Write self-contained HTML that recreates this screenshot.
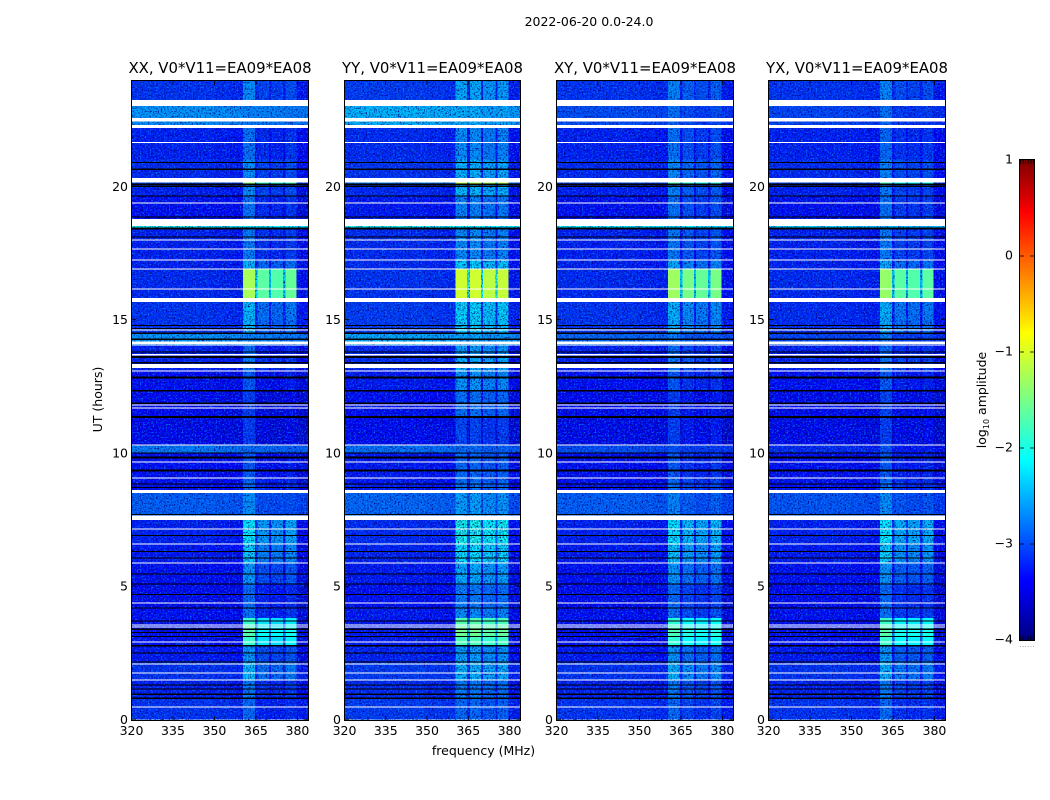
<!DOCTYPE html>
<html lang="en">
<head>
<meta charset="utf-8">
<title>2022-06-20 spectrogram</title>
<style>
html,body{margin:0;padding:0;background:#fff;}
svg{display:block;}
text{font-family:"DejaVu Sans","Liberation Sans",sans-serif;fill:#000;}
</style>
</head>
<body>
<svg id="chart" xmlns="http://www.w3.org/2000/svg" width="1050" height="800" viewBox="0 0 1050 800">
<defs>
<filter id="darkNoise" x="0" y="0" width="100%" height="100%" color-interpolation-filters="sRGB">
<feTurbulence type="fractalNoise" baseFrequency="0.62" numOctaves="2" seed="4"/>
<feColorMatrix type="matrix" values="0 0 0 0 0  0 0 0 0 0  0 0 0 0 0.45  3.0 0 0 0 -1.4"/>
</filter>
<filter id="lightNoise" x="0" y="0" width="100%" height="100%" color-interpolation-filters="sRGB">
<feTurbulence type="fractalNoise" baseFrequency="0.62" numOctaves="2" seed="11"/>
<feColorMatrix type="matrix" values="0 0 0 0 0  0 0 0 0 0.6  0 0 0 0 1  2.4 0 0 0 -1.2"/>
</filter>
</defs>
<text x="589" y="26" font-size="12.5" text-anchor="middle">2022-06-20 0.0-24.0</text>
<text x="483.5" y="755" font-size="12.5" text-anchor="middle">frequency (MHz)</text>
<text transform="translate(102,399.5) rotate(-90)" font-size="12.5" text-anchor="middle">UT (hours)</text>
<text transform="translate(986,400) rotate(-90)" font-size="12.5" text-anchor="middle">log<tspan font-size="8" dy="3">10</tspan><tspan dy="-3"> amplitude</tspan></text>
<g id="panels"></g>
<g id="colorbar"></g>
</svg>
<script>
// ---- Shared axes data ----
const polarisations = ['XX', 'YY', 'XY', 'YX'];
const baselineLabel = ', V0*V11=EA09*EA08';
const freqTicks = [320, 335, 350, 365, 380];
const hourTicks = [0, 5, 10, 15, 20];
const colorTicks = [1, 0, -1, -2, -3, -4];
const freqRange = [320, 384];
const hourRange = [0, 23.95];
const colorRange = [-4, 1];

// Frequency channel edges (MHz) and time segment edges (UT hours)
const channelEdges = [320, 326, 332, 338, 344, 350, 356, 360.5, 364.8, 365.8, 369.9, 370.6, 375, 375.8, 379.9, 384];
const segmentEdges = [0, 0.79, 1.45, 2.15, 2.76, 3.1, 3.44, 3.8, 4.2, 5.07, 5.87, 6.55, 7.47, 7.65, 8.5, 9.03, 10, 10.28, 11.35, 12.33, 13.05, 13.6, 14.05, 14.2, 14.48, 15, 15.81, 16.9, 17.25, 18.42, 18.51, 18.78, 19.64, 20.07, 20.15, 20.32, 21, 21.66, 22.19, 22.44, 23.02, 24];

// Broadband tilt across the band (log10 amplitude offset per channel)
const channelTilt = [0, 0, 0, 0, 0, -0.03, -0.06, -0.1, -0.1, -0.1, -0.12, -0.12, -0.12, -0.15, -0.15];

// Per-segment broadband background level (log10 amplitude)
const backgroundXX = [-3.15, -3.25, -3.15, -3.3, -3.35, -3.35, -3.35, -3.35, -3.4, -3.35, -3.3, -3.25, -3.1, -2.9, -3.35, -3.35, -2.75, -3.45, -3.4, -3.35, -3.25, -3.25, -2.5, -2.6, -3.15, -3.15, -3.2, -3.25, -3.25, -2.0, -3, -3.35, -3.25, -3.05, -3.05, -3.2, -3.25, -3.25, -2.65, -2.6, -3.15];
const backgroundYY = [-3.1, -3.2, -3.1, -3.25, -3.3, -3.3, -3.3, -3.3, -3.35, -3.3, -3.25, -3.2, -2.6, -2.85, -3.3, -3.3, -2.8, -3.4, -3.35, -3.3, -3.2, -3.2, -2.4, -2.5, -3.1, -3.1, -3.15, -3.2, -3.2, -2.0, -3, -3.3, -3.2, -2.75, -2.75, -3.15, -3.2, -3.2, -2.45, -2.42, -3.1];
const backgroundXY = [-3.15, -3.25, -3.15, -3.3, -3.35, -3.35, -3.35, -3.35, -3.4, -3.35, -3.3, -3.25, -3.1, -2.9, -3.35, -3.35, -3.0, -3.45, -3.4, -3.35, -3.25, -3.25, -2.7, -2.85, -3.15, -3.15, -3.2, -3.25, -3.25, -2.1, -3, -3.35, -3.25, -3.05, -3.05, -3.2, -3.25, -3.25, -3.0, -3.0, -3.15];
const backgroundYX = [-3.15, -3.25, -3.15, -3.3, -3.35, -3.35, -3.35, -3.35, -3.4, -3.35, -3.3, -3.25, -3.1, -2.95, -3.35, -3.35, -3.2, -3.45, -3.4, -3.35, -3.25, -3.25, -2.95, -3.05, -3.2, -3.2, -3.2, -3.25, -3.25, -2.3, -3, -3.35, -3.25, -3.05, -3.05, -3.2, -3.25, -3.25, -3.05, -3.05, -3.15];

// Per-segment interference level in the strongest 360-380 MHz channel
const interferenceXX = [-2.85, -2.75, -2.4, -2.6, -1.85, -1.7, -1.85, -2.8, -2.85, -2.6, -2.3, -2.15, -2.1, -2.65, -2.85, -2.95, -2.95, -3.1, -3.1, -2.95, -2.75, -2.85, -2.8, -2.7, -2.45, -2.4, -1.25, -2.45, -2.75, -2.5, -2.7, -2.8, -2.65, -1.4, -1.3, -2.65, -2.8, -2.8, -2.8, -2.7, -2.65];
const interferenceYY = [-2.85, -2.75, -2.45, -2.55, -1.75, -1.55, -1.7, -2.65, -2.75, -2.5, -2.2, -2.0, -2.0, -2.55, -2.8, -2.85, -2.85, -3.05, -2.8, -2.6, -2.45, -2.55, -2.45, -2.5, -2.3, -2.25, -1.05, -2.3, -2.65, -2.35, -2.55, -2.7, -2.4, -1.15, -1.1, -2.45, -2.65, -2.65, -2.45, -2.45, -2.5];
const interferenceXY = [-2.85, -2.75, -2.45, -2.6, -1.9, -1.75, -1.9, -2.8, -2.85, -2.6, -2.35, -2.2, -2.15, -2.7, -2.85, -2.95, -3.0, -3.1, -3.1, -2.95, -2.75, -2.85, -2.8, -2.75, -2.5, -2.45, -1.3, -2.5, -2.75, -2.55, -2.7, -2.8, -2.7, -1.7, -1.65, -2.65, -2.8, -2.8, -2.85, -2.8, -2.7];
const interferenceYX = [-2.85, -2.75, -2.45, -2.6, -1.85, -1.7, -1.85, -2.8, -2.85, -2.6, -2.3, -2.15, -2.1, -2.65, -2.85, -2.95, -3.0, -3.1, -3.05, -2.95, -2.75, -2.85, -2.8, -2.75, -2.5, -2.45, -1.35, -2.5, -2.75, -2.55, -2.7, -2.8, -2.75, -1.75, -1.7, -2.7, -2.85, -2.85, -2.85, -2.8, -2.7];

// Interference gain per channel (log10 offset; -9 means none)
const gainXX = [-9, -9, -9, -9, -9, -9, -9, 0, -1.0, -0.4, -1.1, -0.45, -1.1, -0.35, -9];
const gainYY = [-9, -9, -9, -9, -9, -9, -9, 0, -0.9, 0, -1.0, -0.1, -0.9, -0.05, -9];
const gainXY = [-9, -9, -9, -9, -9, -9, -9, 0, -1.0, -0.2, -1.05, -0.3, -1.05, -0.2, -9];
const gainYX = [-9, -9, -9, -9, -9, -9, -9, 0, -1.0, -0.3, -1.05, -0.35, -1.05, -0.3, -9];

// Segments whose interference is steady (no visible grain)
const steadySegments = [4, 5, 6, 26, 33, 34];

// Flagged (no data) time ranges, drawn white: start hour, end hour
const flaggedStart = [0.44, 1.45, 1.71, 2.05, 2.88, 3.44, 3.52, 4.34, 5.84, 6.55, 7.12, 7.47, 8.5, 9.03, 9.64, 10.28, 11.66, 11.78, 13.05, 13.18, 13.66, 14.03, 14.08, 14.59, 15.65, 16.12, 16.87, 17.21, 17.62, 17.97, 18.51, 19.36, 20.15, 21.63, 22.19, 22.44, 23.02];
const flaggedEnd = [0.48, 1.49, 1.75, 2.09, 2.92, 3.48, 3.56, 4.38, 5.88, 6.59, 7.16, 7.65, 8.6, 9.07, 9.68, 10.32, 11.7, 11.82, 13.09, 13.33, 13.7, 14.07, 14.18, 14.63, 15.81, 16.16, 16.91, 17.25, 17.66, 18.01, 18.78, 19.4, 20.32, 21.67, 22.3, 22.56, 23.24];

// Zero amplitude time ranges, drawn black: centre hour, duration hours
const blankCentre = [0.79, 0.94, 1.14, 1.29, 2.15, 2.48, 2.76, 3.1, 3.25, 3.38, 3.69, 4.17, 4.69, 5.07, 5.45, 6.06, 6.29, 6.9, 7.69, 8.7, 8.83, 9.33, 9.83, 10.0, 11.35, 11.86, 12.33, 12.83, 13.38, 13.6, 13.78, 14.26, 14.48, 14.67, 14.77, 18.09, 18.42, 18.84, 19.64, 19.99, 20.07, 20.64, 20.9];
const blankLength = [0.04, 0.04, 0.04, 0.04, 0.04, 0.04, 0.04, 0.04, 0.04, 0.04, 0.04, 0.04, 0.04, 0.04, 0.04, 0.04, 0.04, 0.04, 0.04, 0.04, 0.04, 0.08, 0.08, 0.04, 0.08, 0.05, 0.07, 0.07, 0.04, 0.07, 0.04, 0.04, 0.06, 0.04, 0.04, 0.04, 0.08, 0.04, 0.04, 0.04, 0.08, 0.04, 0.04];

// Jet colormap anchors: position, red, green, blue
const jetPosition = [0, 0.11, 0.125, 0.35, 0.375, 0.64, 0.66, 0.89, 0.91, 1];
const jetRed = [0, 0, 0, 0, 0, 1, 1, 1, 0.9, 0.5];
const jetGreen = [0, 0, 0, 0.9, 1, 1, 0.91, 0, 0, 0];
const jetBlue = [0.5, 0.96, 1, 1, 1, 0, 0, 0, 0, 0];

const panelBackgrounds = [backgroundXX, backgroundYY, backgroundXY, backgroundYX];
const panelInterference = [interferenceXX, interferenceYY, interferenceXY, interferenceYX];
const panelGains = [gainXX, gainYY, gainXY, gainYX];

// ---- Layout ----
const panelLeft = [131, 344, 556, 768];
const panelWidths = [177, 176, 177, 177];
const panelTop = 81;
const panelBottom = 720;
const barLeft = 1019;
const barRight = 1034;
const barTop = 160;
const barBottom = 640;
const NS = 'http://www.w3.org/2000/svg';

function xScale(panel, freq) {
  return panelLeft[panel] + (freq - freqRange[0]) / (freqRange[1] - freqRange[0]) * panelWidths[panel];
}
function yScale(hour) {
  const h = Math.min(hourRange[1], hour);
  return 719.3 + (h - hourRange[0]) * -26.65;
}
function barScale(value) {
  return barBottom + (value - colorRange[0]) / (colorRange[1] - colorRange[0]) * (barTop - barBottom);
}
function jet(value) {
  const t = Math.min(1, Math.max(0, (value - colorRange[0]) / (colorRange[1] - colorRange[0])));
  let i = 0;
  while (i < jetPosition.length - 2 && t > jetPosition[i + 1]) i++;
  const f = (t - jetPosition[i]) / (jetPosition[i + 1] - jetPosition[i]);
  const mix = function (a) { return Math.round(255 * (a[i] + (a[i + 1] - a[i]) * f)); };
  return 'rgb(' + mix(jetRed) + ',' + mix(jetGreen) + ',' + mix(jetBlue) + ')';
}
function make(parent, tag, attrs, text) {
  const el = document.createElementNS(NS, tag);
  for (const k in attrs) el.setAttribute(k, attrs[k]);
  if (text !== undefined) el.textContent = text;
  parent.appendChild(el);
  return el;
}

const panelsRoot = document.getElementById('panels');
polarisations.forEach(function (pol, p) {
  const left = panelLeft[p];
  const panelWidth = panelWidths[p];
  const right = left + panelWidth;
  const plotLeft = left + 1;
  const group = make(panelsRoot, 'g', {});
  
  

  const cells = make(group, 'g', { 'shape-rendering': 'crispEdges' });
  
  
  const noiseDark = make(group, 'rect', { x: left, y: panelTop, width: panelWidth, height: panelBottom - panelTop, filter: 'url(#darkNoise)' });
  
  
  const noiseLight = make(group, 'rect', { x: left, y: panelTop, width: panelWidth, height: panelBottom - panelTop, filter: 'url(#lightNoise)' });
  
  
  const strongCells = make(group, 'g', { 'shape-rendering': 'crispEdges' });
  
  

  for (let s = 0; s < segmentEdges.length - 1; s++) {
    for (let c = 0; c < channelEdges.length - 1; c++) {
      const gain = panelGains[p][c];
      const value = Math.max(
        panelBackgrounds[p][s] + channelTilt[c],
        panelInterference[p][s] + gain
      );
      const y0 = yScale(segmentEdges[s + 1]);
      const y1 = yScale(segmentEdges[s]);
      const x0 = xScale(p, channelEdges[c]);
      const x1 = xScale(p, channelEdges[c + 1]);
      const target = (steadySegments.includes(s) && gain > -0.8) ? strongCells : cells;
      const cell = make(target, 'rect', { x: x0, y: y0, width: x1 - x0, height: y1 - y0, fill: jet(value) });
      
      
    }
  }

  const bands = make(group, 'g', { 'shape-rendering': 'crispEdges' });
  
  
  flaggedStart.forEach(function (start, i) {
    const band = make(bands, 'rect', { x: left, y: yScale(flaggedEnd[i]), width: panelWidth + 1, height: yScale(start) - yScale(flaggedEnd[i]), fill: '#fff' });
    
    
  });
  blankCentre.forEach(function (centre, i) {
    const top = yScale(centre + blankLength[i] / 2);
    const line = make(bands, 'rect', { x: left, y: top, width: panelWidth + 1, height: yScale(centre - blankLength[i] / 2) - top, fill: '#000' });
    
    
  });

  const frame = make(group, 'rect', { x: left + 0.5, y: panelTop - 0.5, width: panelWidth, height: 640, fill: 'none', stroke: '#000', 'stroke-width': 1 });
  
  

  freqTicks.forEach(function (f) {
    const x = xScale(p, f) + 0.5;
    const bottomTick = make(group, 'line', { x1: x, x2: x, y1: panelBottom, y2: panelBottom - 4, stroke: '#000', 'stroke-width': 0.8 });
    
    
    const topTick = make(group, 'line', { x1: x, x2: x, y1: panelTop, y2: panelTop + 4, stroke: '#000', 'stroke-width': 0.8 });
    
    
    const label = make(group, 'text', { x: x, y: 735, 'font-size': 12.5, 'text-anchor': 'middle' }, String(f));
    
    
  });
  hourTicks.forEach(function (h) {
    const y = yScale(h);
    const leftTick = make(group, 'line', { x1: plotLeft, x2: plotLeft + 4, y1: y, y2: y, stroke: '#000', 'stroke-width': 0.8 });
    
    
    const rightTick = make(group, 'line', { x1: right, x2: right - 4, y1: y, y2: y, stroke: '#000', 'stroke-width': 0.8 });
    
    
    const label = make(group, 'text', { x: left - 3, y: y + 4.5, 'font-size': 12.5, 'text-anchor': 'end' }, String(h));
    
    
  });

  const title = make(group, 'text', { x: left + panelWidth / 2 + 0.5, y: 73, 'font-size': 14.9, 'text-anchor': 'middle' }, pol + baselineLabel);
  
  
});

// ---- Colorbar ----
const barRoot = document.getElementById('colorbar');
const barStrips = make(barRoot, 'g', { 'shape-rendering': 'crispEdges' });


for (let py = barTop; py < barBottom; py++) {
  const v = colorRange[1] - (py + 0.5 - barTop) / (barBottom - barTop) * (colorRange[1] - colorRange[0]);
  const strip = make(barStrips, 'rect', { x: barLeft, y: py, width: barRight - barLeft + 1, height: 1, fill: jet(v) });
  
  
}
const barFrame = make(barRoot, 'rect', { x: barLeft + 0.5, y: barTop - 0.5, width: barRight - barLeft, height: barBottom - barTop + 1, fill: 'none', stroke: '#000', 'stroke-width': 1 });


colorTicks.forEach(function (v) {
  const y = barScale(v);
  const tickL = make(barRoot, 'line', { x1: barLeft, x2: barLeft + 5, y1: y, y2: y, stroke: '#000', 'stroke-width': 0.8 });
  
  
  const tickR = make(barRoot, 'line', { x1: barRight, x2: barRight - 4, y1: y, y2: y, stroke: '#000', 'stroke-width': 0.8 });
  
  
  const label = make(barRoot, 'text', { x: 1013, y: y + 3.5, 'font-size': 12.5, 'text-anchor': 'end' }, String(v).replace('-', '\u2212'));
  
  
});
for (let i = 0; i < 6; i++) {
  const tx = barLeft + 1.5 + i * 2.6;
  const capTop = make(barRoot, 'line', { x1: tx, x2: tx, y1: barTop, y2: barTop + 4, stroke: '#000', 'stroke-width': 0.7 });
  
  
  const capBottom = make(barRoot, 'line', { x1: tx, x2: tx, y1: barBottom, y2: barBottom - 4, stroke: '#000', 'stroke-width': 0.7 });
  
  
  const dot = make(barRoot, 'rect', { x: tx - 0.5, y: 646, width: 1, height: 1, fill: '#aaa' });
  
  
}
</script>
</body>
</html>
